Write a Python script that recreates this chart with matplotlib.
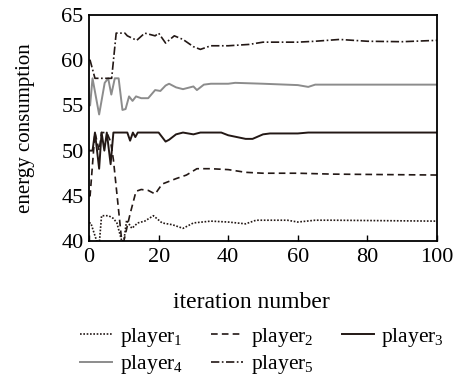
import matplotlib
matplotlib.use("Agg")
import matplotlib.pyplot as plt

plt.rcParams['font.family'] = ['Liberation Serif', 'DejaVu Serif']
plt.rcParams['mathtext.fontset'] = 'custom'
plt.rcParams['mathtext.rm'] = 'Liberation Serif'
plt.rcParams['mathtext.it'] = 'Liberation Serif'

# data
x1 = [0, 0.5, 2.2, 3.0, 3.6, 5.6, 7, 8, 9.4, 10, 10.8, 12.3, 14, 16, 18.5, 21, 24, 27, 30, 35, 40, 45, 48, 57, 60, 65, 70, 100]
y1 = [42, 42, 40, 40, 42.8, 42.8, 42.5, 42, 40, 40, 42.3, 41.4, 42, 42.2, 42.8, 42.0, 41.8, 41.4, 42.0, 42.2, 42.1, 41.9, 42.3, 42.3, 42.1, 42.3, 42.3, 42.2]

x2 = [0, 0.3, 1.7, 2.9, 3.6, 5.1, 6.2, 7, 9.4, 10, 11.8, 13.5, 15, 17, 19, 21, 25, 28, 31, 35, 40, 45, 50, 60, 70, 100]
y2 = [45, 45, 52, 50, 52, 52, 51, 49, 40, 40, 43, 45.5, 45.7, 45.6, 45.2, 46.3, 46.9, 47.3, 48.0, 48.0, 47.9, 47.6, 47.5, 47.5, 47.4, 47.3]

x3 = [0, 1, 1.7, 2.9, 3.6, 4.4, 5.1, 6.2, 7.0, 11, 11.8, 12.6, 13.3, 14, 20, 22, 23, 25, 27, 30, 32, 38, 40, 45, 47, 50, 52, 60, 63, 100]
y3 = [50, 50, 52, 48, 52, 50, 52, 48.5, 52, 52, 51.1, 52, 51.5, 52, 52, 51.0, 51.2, 51.8, 52, 51.8, 52, 52, 51.7, 51.3, 51.3, 51.8, 51.9, 51.9, 52, 52]

x4 = [0, 0.3, 1, 2.9, 4.5, 5.5, 6.4, 7.4, 8.5, 9.6, 10.5, 11.5, 12.5, 13.5, 15, 17, 19, 20.5, 22, 23, 25, 27, 30, 31, 33, 35, 40, 42, 50, 60, 63, 65, 100]
y4 = [55, 55, 58, 54, 57.5, 58, 56.2, 58, 58, 54.5, 54.6, 56, 55.5, 56, 55.8, 55.8, 56.7, 56.6, 57.2, 57.4, 57.0, 56.8, 57.1, 56.7, 57.3, 57.4, 57.4, 57.5, 57.4, 57.25, 57.05, 57.3, 57.3]

x5 = [0, 0.3, 1.7, 6.5, 7.8, 10.3, 11, 13.7, 16, 19, 20, 22, 24.5, 27, 30, 32, 35, 40, 46, 50, 60, 65, 72, 80, 90, 100]
y5 = [60, 60, 58, 58, 63, 63, 62.7, 62.2, 63, 62.7, 63, 61.9, 62.7, 62.3, 61.5, 61.2, 61.6, 61.6, 61.75, 62.0, 62.0, 62.1, 62.3, 62.1, 62.05, 62.2]

labels = ['player$_1$', 'player$_2$', 'player$_3$', 'player$_4$', 'player$_5$']

fig = plt.figure(figsize=(4.59, 3.76), dpi=100)
ax = fig.add_axes([0.194, 0.359, 0.758, 0.601])

l1, = ax.plot(x1, y1, color='#231815', lw=1.2, linestyle=(0, (1, 1)))
l2, = ax.plot(x2, y2, color='#231815', lw=1.2, linestyle=(0, (4, 2.5)))
l3, = ax.plot(x3, y3, color='#231815', lw=1.4, linestyle='-')
l4, = ax.plot(x4, y4, color='#8c8c8c', lw=1.4, linestyle='-')
l5, = ax.plot(x5, y5, color='#231815', lw=1.2, linestyle=(0, (5, 1.5, 1, 1.5)))

ax.set_xlim(0, 100)
ax.set_ylim(40, 65)
ax.set_xticks([0, 20, 40, 60, 80, 100])
ax.set_yticks([40, 45, 50, 55, 60, 65])
ax.tick_params(axis='x', direction='in', length=4, width=1, labelsize=16, pad=5)
ax.tick_params(axis='y', length=0, labelsize=16, pad=4)
for s in ax.spines.values():
    s.set_linewidth(1.3)

ax.set_xlabel('iteration number', fontsize=17)
ax.xaxis.set_label_coords(0.468, -0.225)
ax.set_ylabel('energy consumption', fontsize=15, labelpad=19)

handles = [l1, l4, l2, l5, l3]
labs = [labels[0], labels[3], labels[1], labels[4], labels[2]]
fig.legend(handles, labs, ncol=3, loc='upper left', bbox_to_anchor=(0.165, 0.145),
           frameon=False, fontsize=15.5, handlelength=1.5, handletextpad=0.35,
           columnspacing=1.3, labelspacing=0.2, borderaxespad=0.0, borderpad=0.2)

fig.savefig('out.png', dpi=100)
